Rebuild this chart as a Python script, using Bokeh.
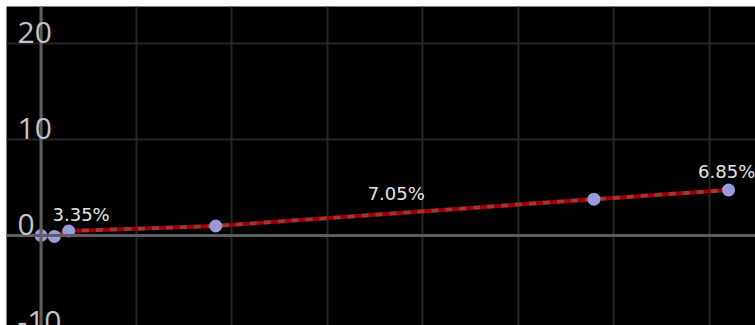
import numpy as np
from bokeh.plotting import figure
from bokeh.models import ColumnDataSource, LabelSet, Span, SingleIntervalTicker, Range1d
from bokeh.core.properties import value
from bokeh.embed import file_html
from bokeh.resources import INLINE

# data (distance, elevation)
dist = [0.0, 1.4, 2.9, 18.3, 57.9, 72.0]
elev = [0.0, -0.1, 0.47, 0.99, 3.78, 4.74]

# grade labels
grade_text = ["3.35%", "7.05%", "6.85%"]
grade_x = [4.2, 37.2, 71.8]
grade_y = [1.56, 3.65, 5.94]

# y tick labels
y_ticks = [20, 10, 0, -10]

W, H = 749, 319
p = figure(width=W, height=H, output_backend="svg", toolbar_location=None,
           x_range=Range1d(-3.613, 74.82), y_range=Range1d(-9.375, 23.854),
           min_border=0, background_fill_color="#000000", border_fill_color="#000000")
p.styles = {"margin-left": "6px", "margin-top": "6px"}
p.outline_line_color = None
p.xaxis.visible = False
p.yaxis.visible = False
p.xgrid.ticker = SingleIntervalTicker(interval=10)
p.ygrid.ticker = SingleIntervalTicker(interval=10)
for g in (p.xgrid, p.ygrid):
    g.grid_line_color = "#262626"
    g.grid_line_width = 2

p.add_layout(Span(location=0, dimension="width", line_color="#5e5e5e", line_width=3))
p.add_layout(Span(location=0, dimension="height", line_color="#5e5e5e", line_width=3))

src = ColumnDataSource(dict(x=dist, y=elev))
p.line("x", "y", source=src, line_color="#a00000", line_width=4)
p.line("x", "y", source=src, line_color="#9a9a9a", line_alpha=0.35, line_width=4, line_dash="7 7")
p.scatter("x", "y", source=src, size=13, fill_color="#9b9bdb", line_color=None)

lsrc = ColumnDataSource(dict(x=grade_x, y=grade_y, t=grade_text))
p.add_layout(LabelSet(x="x", y="y", text="t", source=lsrc, text_align="center",
                      text_baseline="alphabetic", text_color="#e6e6e6",
                      text_font=value("DejaVu Sans"), text_font_size="18px"))

tsrc = ColumnDataSource(dict(x=[11] * len(y_ticks), y=y_ticks, t=[str(t) for t in y_ticks]))
p.add_layout(LabelSet(x="x", y="y", text="t", source=tsrc, x_units="screen",
                      y_offset=0, text_align="left", text_baseline="alphabetic",
                      text_color="#c4c4c4", text_font=value("Open Sans"),
                      text_font_size="30px"))

open("out.html", "w").write(file_html(p, INLINE))
